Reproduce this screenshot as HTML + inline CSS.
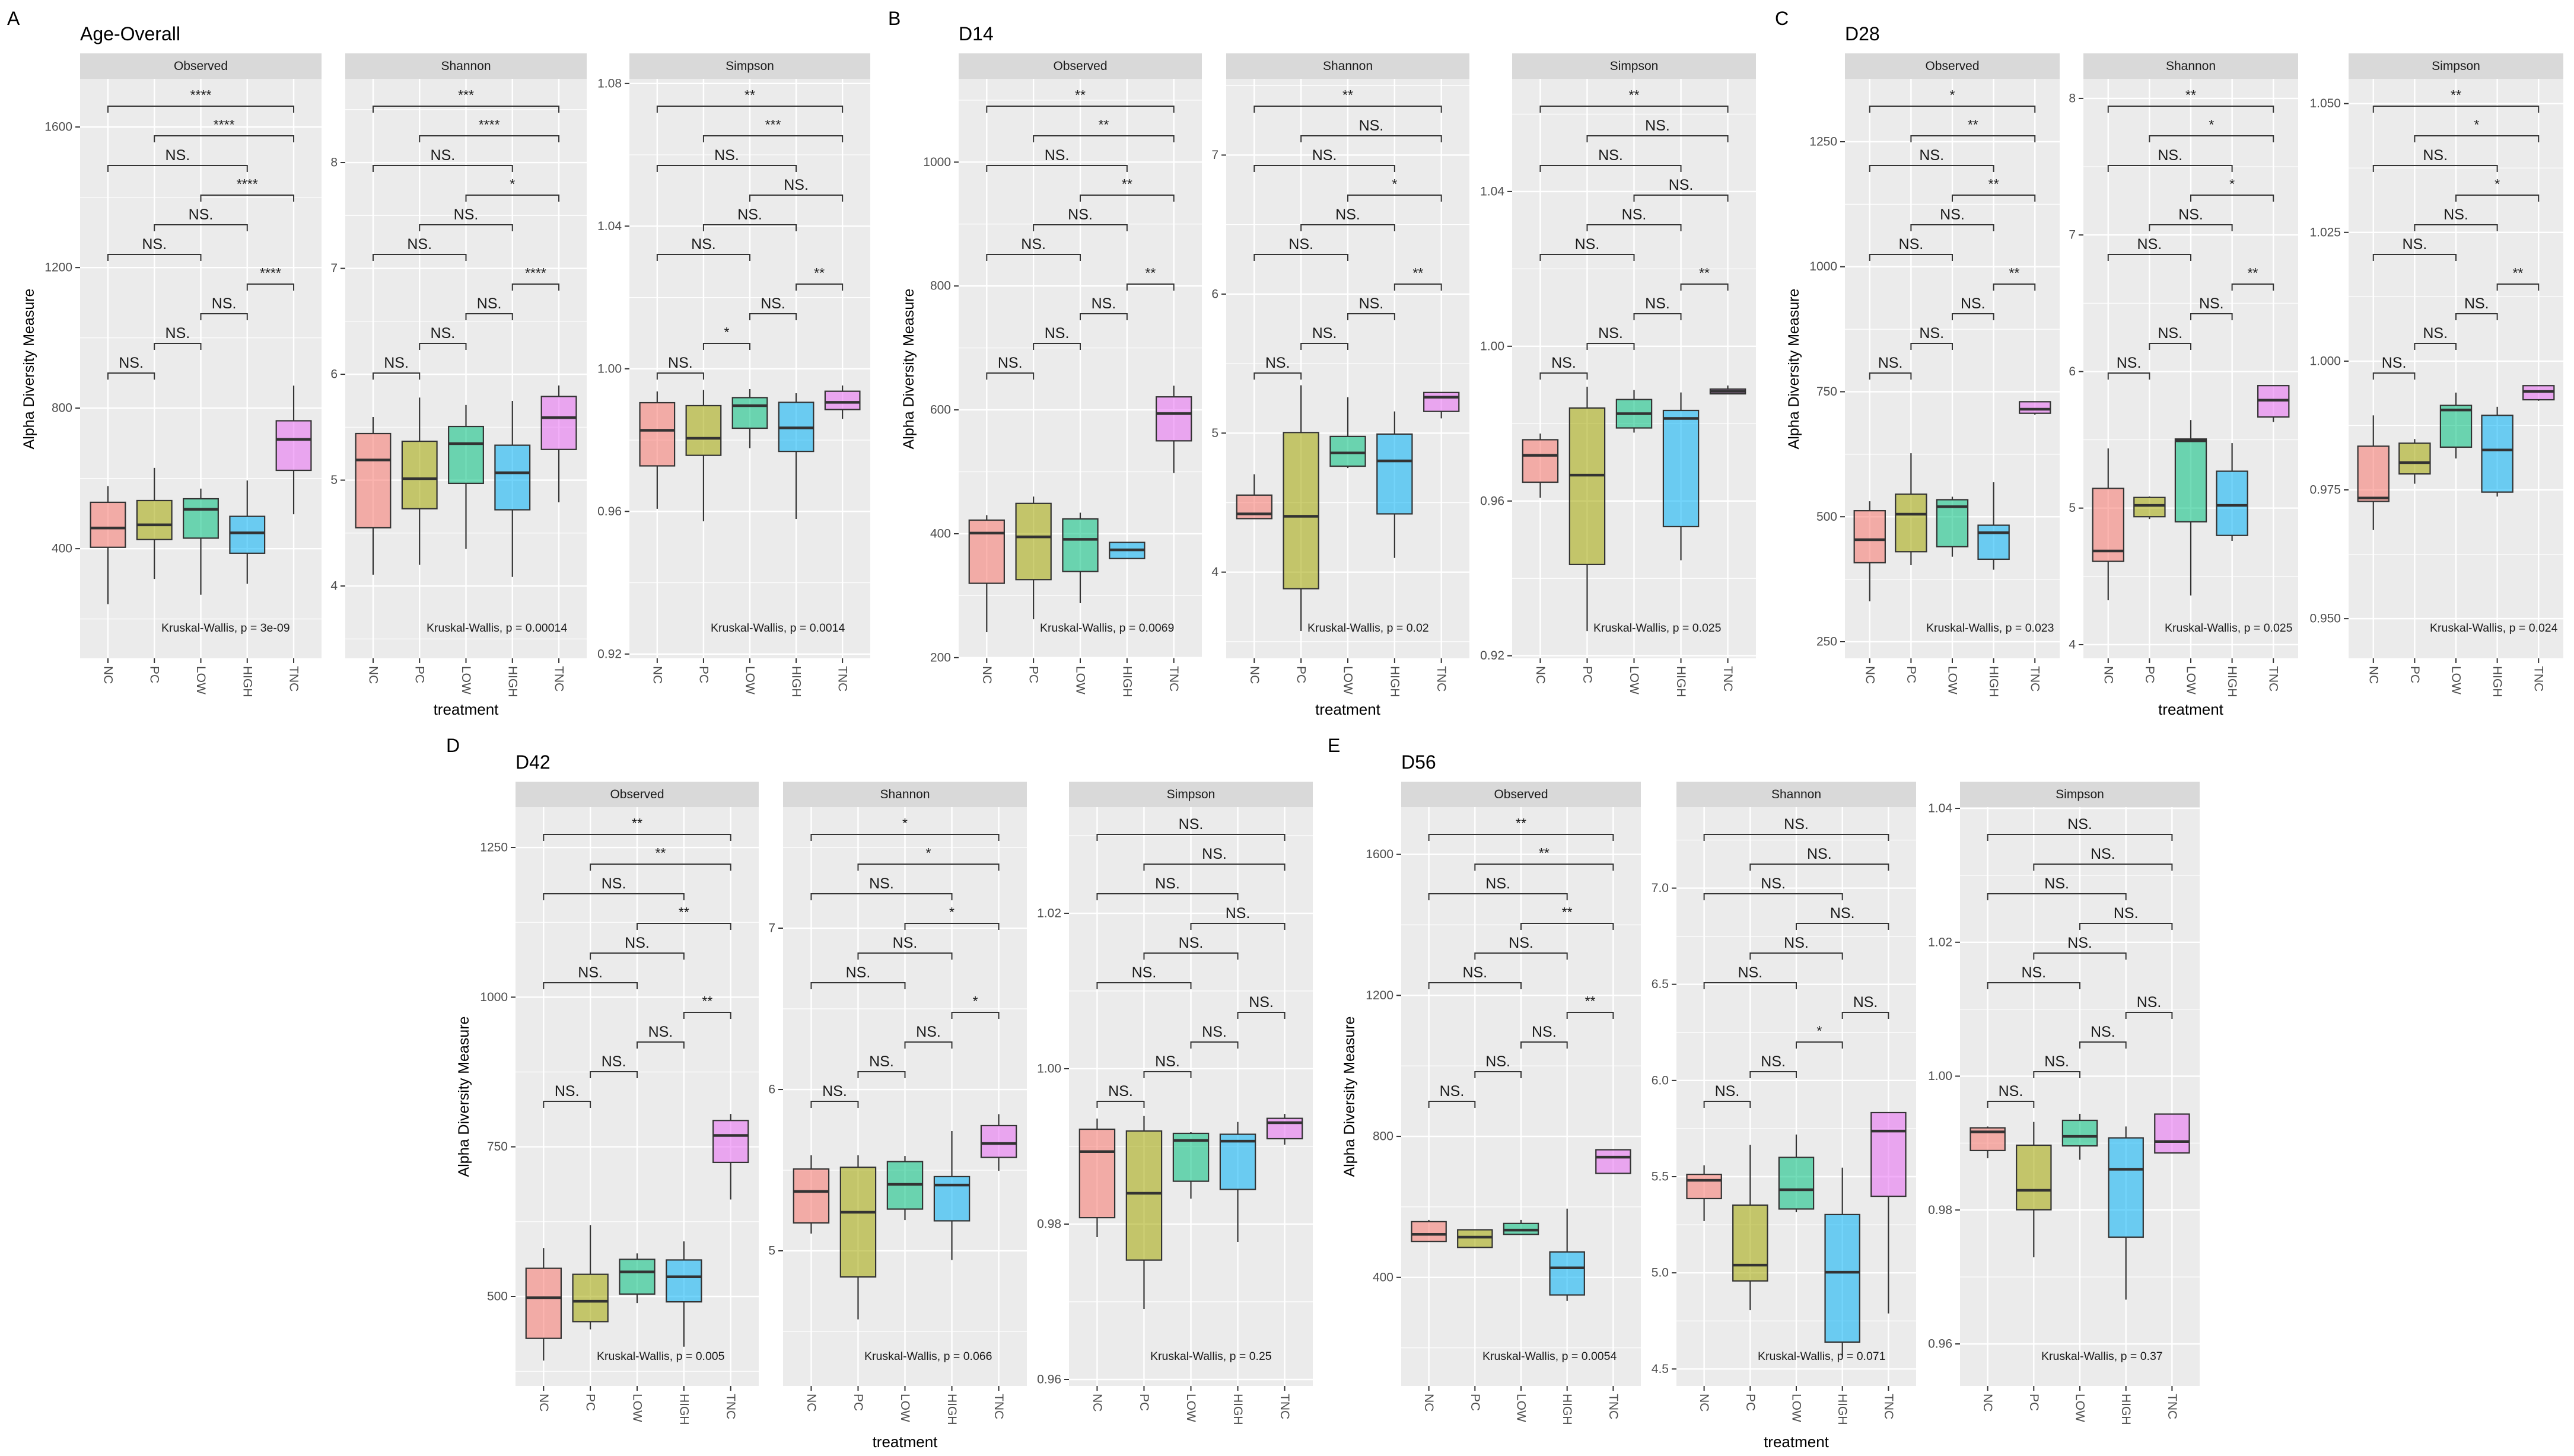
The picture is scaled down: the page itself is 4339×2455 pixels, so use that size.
<!DOCTYPE html>
<html><head><meta charset="utf-8"><title>Alpha diversity boxplots</title>
<style>
html,body{margin:0;padding:0;background:#fff;}
svg{display:block;font-family:"Liberation Sans",Arial,sans-serif;}
</style></head>
<body>
<svg id="fig" xmlns="http://www.w3.org/2000/svg" width="4339" height="2455" viewBox="0 0 4339 2455">
<rect x="0" y="0" width="4339" height="2455" fill="#ffffff"/>
</svg>
<script>
// ---------- data ----------
const categories = ["NC","PC","LOW","HIGH","TNC"];
const colors = ["#F8766D","#A3A500","#00BF7D","#00B0F6","#E76BF3"];
const pairs = [[0,4],[1,4],[0,3],[2,4],[1,3],[0,2],[3,4],[2,3],[1,2],[0,1]];
// five-number summaries [whiskerLow, q1, median, q3, whiskerHigh] per category
const aObsStats = [[242,404,459,532,578],[314,426,468,537,630],[269,430,512,542,571],[300,387,445,492,594],[498,623,711,764,864]];
const aShaStats = [[4.107,4.55,5.19,5.44,5.597],[4.20,4.73,5.014,5.367,5.78],[4.35,4.97,5.345,5.507,5.71],[4.086,4.72,5.07,5.33,5.748],[4.79,5.29,5.59,5.79,5.894]];
const aSimStats = [[0.96074,0.97277,0.98276,0.99048,0.99364],[0.95722,0.97573,0.9805,0.98966,0.99403],[0.97773,0.98333,0.98966,0.99191,0.99431],[0.95788,0.97683,0.98342,0.99058,0.99314],[0.98594,0.98857,0.99058,0.9937,0.99531]];
const bObsStats = [[241,320,401,422,430],[262,326,395,449,460],[288,339,391,424,434],[360,360,374,386,386],[498,550,594,621,639]];
const bShaStats = [[4.385,4.385,4.419,4.554,4.704],[3.576,3.881,4.402,5.004,5.344],[4.749,4.762,4.857,4.976,5.258],[4.102,4.419,4.80,4.993,5.156],[5.106,5.156,5.258,5.292,5.292]];
const bSimStats = [[0.96082,0.96486,0.97181,0.97584,0.97744],[0.92638,0.94358,0.96668,0.98403,0.98954],[0.97768,0.97889,0.98257,0.98623,0.98867],[0.94469,0.95338,0.98135,0.98342,0.98806],[0.9877,0.9877,0.98832,0.98893,0.98985]];
const cObsStats = [[331,408,454,512,531],[403,430,505,545,627],[420,440,520,534,540],[394,415,468,483,569],[704,707,715,730,730]];
const cShaStats = [[4.325,4.61,4.686,5.144,5.437],[4.92,4.937,5.02,5.078,5.085],[4.36,4.90,5.493,5.506,5.645],[4.76,4.80,5.02,5.27,5.476],[5.63,5.667,5.79,5.897,5.897]];
const cSimStats = [[0.9672,0.97277,0.97342,0.98348,0.98947],[0.9762,0.9781,0.9803,0.98406,0.98487],[0.9811,0.9833,0.99052,0.9914,0.99389],[0.9737,0.97458,0.98275,0.98947,0.99114],[0.9923,0.9925,0.9941,0.99524,0.99524]];
const dObsStats = [[393,430,498,547,581],[445,458,492,537,619],[489,504,541,562,572],[416,491,533,561,592],[662,724,769,794,805]];
const dShaStats = [[5.107,5.173,5.368,5.507,5.592],[4.575,4.838,5.239,5.518,5.592],[5.191,5.259,5.412,5.553,5.588],[4.943,5.186,5.408,5.46,5.743],[5.496,5.579,5.665,5.776,5.847]];
const dSimStats = [[0.97832,0.98083,0.98933,0.99221,0.99358],[0.96908,0.97537,0.98397,0.99198,0.99391],[0.98328,0.98552,0.99076,0.99168,0.99183],[0.97771,0.98446,0.99068,0.99156,0.99315],[0.99022,0.99099,0.99305,0.99361,0.99419]];
const eObsStats = [[502,502,522,558,563],[483,485,514,535,534],[520,522,534,553,563],[333,350,427,472,595],[695,695,741,762,762]];
const eShaStats = [[5.269,5.386,5.481,5.512,5.559],[4.806,4.958,5.04,5.352,5.665],[5.315,5.332,5.432,5.60,5.719],[4.564,4.64,5.003,5.303,5.547],[4.789,5.398,5.737,5.833,5.833]];
const eSimStats = [[0.98773,0.98889,0.99167,0.99228,0.99248],[0.97295,0.98003,0.98295,0.98968,0.99316],[0.98751,0.98958,0.991,0.9934,0.99438],[0.96661,0.97595,0.98609,0.99078,0.99248],[0.98853,0.98853,0.99023,0.99433,0.99433]];
// tick labels
const aObsTicks=["400","800","1200","1600"], aShaTicks=["4","5","6","7","8"], aSimTicks=["0.92","0.96","1.00","1.04","1.08"];
const bObsTicks=["200","400","600","800","1000"], bShaTicks=["4","5","6","7"], bSimTicks=["0.92","0.96","1.00","1.04"];
const cObsTicks=["250","500","750","1000","1250"], cShaTicks=["4","5","6","7","8"], cSimTicks=["0.950","0.975","1.000","1.025","1.050"];
const dObsTicks=["500","750","1000","1250"], dShaTicks=["5","6","7"], dSimTicks=["0.96","0.98","1.00","1.02"];
const eObsTicks=["400","800","1200","1600"], eShaTicks=["4.5","5.0","5.5","6.0","6.5","7.0"], eSimTicks=["0.96","0.98","1.00","1.02","1.04"];
// significance labels, order = pairs
const aObsSig=["****","****","NS.","****","NS.","NS.","****","NS.","NS.","NS."];
const aShaSig=["***","****","NS.","*","NS.","NS.","****","NS.","NS.","NS."];
const aSimSig=["**","***","NS.","NS.","NS.","NS.","**","NS.","*","NS."];
const bObsSig=["**","**","NS.","**","NS.","NS.","**","NS.","NS.","NS."];
const bShaSig=["**","NS.","NS.","*","NS.","NS.","**","NS.","NS.","NS."];
const bSimSig=["**","NS.","NS.","NS.","NS.","NS.","**","NS.","NS.","NS."];
const cObsSig=["*","**","NS.","**","NS.","NS.","**","NS.","NS.","NS."];
const cShaSig=["**","*","NS.","*","NS.","NS.","**","NS.","NS.","NS."];
const cSimSig=["**","*","NS.","*","NS.","NS.","**","NS.","NS.","NS."];
const dObsSig=["**","**","NS.","**","NS.","NS.","**","NS.","NS.","NS."];
const dShaSig=["*","*","NS.","*","NS.","NS.","*","NS.","NS.","NS."];
const dSimSig=["NS.","NS.","NS.","NS.","NS.","NS.","NS.","NS.","NS.","NS."];
const eObsSig=["**","**","NS.","**","NS.","NS.","**","NS.","NS.","NS."];
const eShaSig=["NS.","NS.","NS.","NS.","NS.","NS.","NS.","*","NS.","NS."];
const eSimSig=["NS.","NS.","NS.","NS.","NS.","NS.","NS.","NS.","NS.","NS."];
const kwP = ["3e-09","0.00014","0.0014","0.0069","0.02","0.025","0.023","0.025","0.024","0.005","0.066","0.25","0.0054","0.071","0.37"];

// ---------- layout ----------
const NS="http://www.w3.org/2000/svg";
const svg=document.getElementById('fig');
const rows=[{stripTop:90,top:133,bottom:1110,kwOff:51,titleY:68,letterY:42,treatY:1205,ytitleY:622},
            {stripTop:1318,top:1361,bottom:2337,kwOff:50,titleY:1296,letterY:1268,treatY:2440,ytitleY:1849}];
const groups=[
 {letter:"A",title:"Age-Overall",row:0,letterX:12,ytitleX:49,panels:[
  {name:"Observed",left:135,w:407,lo:88,hi:1737,stats:aObsStats,ticks:aObsTicks,sig:aObsSig},
  {name:"Shannon",left:582,w:407,lo:3.317,hi:8.79,stats:aShaStats,ticks:aShaTicks,sig:aShaSig},
  {name:"Simpson",left:1061,w:406,lo:0.9188,hi:1.0813,stats:aSimStats,ticks:aSimTicks,sig:aSimSig}]},
 {letter:"B",title:"D14",row:0,letterX:1497,ytitleX:1532,panels:[
  {name:"Observed",left:1616,w:410,lo:198.9,hi:1134.4,stats:bObsStats,ticks:bObsTicks,sig:bObsSig},
  {name:"Shannon",left:2067,w:410,lo:3.38,hi:7.548,stats:bShaStats,ticks:bShaTicks,sig:bShaSig},
  {name:"Simpson",left:2549,w:411,lo:0.91934,hi:1.06911,stats:bSimStats,ticks:bSimTicks,sig:bSimSig}]},
 {letter:"C",title:"D28",row:0,letterX:2992,ytitleX:3024,panels:[
  {name:"Observed",left:3110,w:362,lo:216.8,hi:1375.7,stats:cObsStats,ticks:cObsTicks,sig:cObsSig},
  {name:"Shannon",left:3512,w:362,lo:3.90,hi:8.143,stats:cShaStats,ticks:cShaTicks,sig:cShaSig},
  {name:"Simpson",left:3959,w:362,lo:0.9423,hi:1.0548,stats:cSimStats,ticks:cSimTicks,sig:cSimSig}]},
 {letter:"D",title:"D42",row:1,letterX:752,ytitleX:782,panels:[
  {name:"Observed",left:869,w:410,lo:350.4,hi:1317.4,stats:dObsStats,ticks:dObsTicks,sig:dObsSig},
  {name:"Shannon",left:1320,w:411,lo:4.162,hi:7.75,stats:dShaStats,ticks:dShaTicks,sig:dShaSig},
  {name:"Simpson",left:1802,w:411,lo:0.95916,hi:1.03366,stats:dSimStats,ticks:dSimTicks,sig:dSimSig}]},
 {letter:"E",title:"D56",row:1,letterX:2238,ytitleX:2275,panels:[
  {name:"Observed",left:2362,w:404,lo:91.7,hi:1734,stats:eObsStats,ticks:eObsTicks,sig:eObsSig},
  {name:"Shannon",left:2826,w:404,lo:4.4115,hi:7.421,stats:eShaStats,ticks:eShaTicks,sig:eShaSig},
  {name:"Simpson",left:3304,w:404,lo:0.95371,hi:1.04018,stats:eSimStats,ticks:eSimTicks,sig:eSimSig}]}
];

function mk(tag,attrs,parent,text){
  const el=document.createElementNS(NS,tag);
  for(const k in attrs) el.setAttribute(k,attrs[k]);
  if(text!==undefined) el.textContent=text;
  (parent||svg).appendChild(el);
  return el;
}

let pIndex=0;
groups.forEach(g=>{
  const R=rows[g.row];
  const gEl=mk('g',{});
  
  
  const lt=mk('text',{x:g.letterX,y:R.letterY,'font-size':32,fill:'#000'},gEl,g.letter);
  
  
  const tt=mk('text',{x:g.panels[0].left,y:R.titleY,'font-size':32,fill:'#000'},gEl,g.title);
  
  
  const yt=mk('text',{x:g.ytitleX,y:R.ytitleY,'font-size':25,fill:'#000','text-anchor':'middle','dominant-baseline':'central',transform:`rotate(-90 ${g.ytitleX} ${R.ytitleY})`},gEl,'Alpha Diversity Measure');
  
  
  const mid=g.panels[1];
  const xt=mk('text',{x:mid.left+mid.w/2,y:R.treatY,'font-size':26,fill:'#000','text-anchor':'middle'},gEl,'treatment');
  
  

  g.panels.forEach(p=>{
    const top=R.top,bot=R.bottom,H=bot-top,L=p.left,W=p.w;
    const y=v=>top+(p.hi-v)/(p.hi-p.lo)*H;
    const step=W/5.2;
    const x=i=>L+(i+0.6)*step;
    const pg=mk('g',{},gEl);
    
    
    // strip
    const st=mk('rect',{x:L,y:R.stripTop,width:W,height:top-R.stripTop,fill:'#d9d9d9'},pg);
    
    
    const stt=mk('text',{x:L+W/2,y:(R.stripTop+top)/2,'font-size':21,fill:'#1a1a1a','text-anchor':'middle','dominant-baseline':'central'},pg,p.name);
    
    
    // panel bg
    const bg=mk('rect',{x:L,y:top,width:W,height:H,fill:'#ebebeb'},pg);
    
    
    // grid
    const tv=p.ticks.map(Number);
    const d=tv.length>1?tv[1]-tv[0]:1;
    for(let k=-2;k<tv.length+2;k++){
      const mv=tv[0]+(k+0.5)*d;
      const yy=y(mv);
      if(yy>top+1&&yy<bot-1){
        const gl=mk('line',{x1:L,x2:L+W,y1:yy,y2:yy,stroke:'#fff','stroke-width':1.2},pg);
        
        
      }
    }
    p.ticks.forEach(t=>{
      const yy=y(Number(t));
      const gl=mk('line',{x1:L,x2:L+W,y1:yy,y2:yy,stroke:'#fff','stroke-width':2.4},pg);
      
      
      const tk=mk('line',{x1:L-8,x2:L,y1:yy,y2:yy,stroke:'#333','stroke-width':2},pg);
      
      
      const tl=mk('text',{x:L-13,y:yy,'font-size':21,fill:'#4d4d4d','text-anchor':'end','dominant-baseline':'central'},pg,t);
      
      
    });
    categories.forEach((c,i)=>{
      const gl=mk('line',{x1:x(i),x2:x(i),y1:top,y2:bot,stroke:'#fff','stroke-width':2.4},pg);
      
      
      const tk=mk('line',{x1:x(i),x2:x(i),y1:bot,y2:bot+8,stroke:'#333','stroke-width':2},pg);
      
      
      const tl=mk('text',{x:0,y:0,'font-size':21,fill:'#4d4d4d','text-anchor':'start','dominant-baseline':'central',transform:`translate(${x(i)},${bot+13}) rotate(90)`},pg,c);
      
      
    });
    // boxes
    p.stats.forEach((s,i)=>{
      const bx=mk('g',{},pg);
      
      
      const cx=x(i),bw=step*0.75;
      mk('line',{x1:cx,x2:cx,y1:y(s[0]),y2:y(s[1]),stroke:'#333','stroke-width':2.2},bx);
      mk('line',{x1:cx,x2:cx,y1:y(s[3]),y2:y(s[4]),stroke:'#333','stroke-width':2.2},bx);
      mk('rect',{x:cx-bw/2,y:y(s[3]),width:bw,height:Math.max(0.5,y(s[1])-y(s[3])),fill:colors[i],'fill-opacity':0.55,stroke:'#333','stroke-width':2.2},bx);
      mk('line',{x1:cx-bw/2,x2:cx+bw/2,y1:y(s[2]),y2:y(s[2]),stroke:'#333','stroke-width':4.5},bx);
    });
    // brackets
    pairs.forEach((pr,k)=>{
      const by=top+46+50*k;
      const xa=x(pr[0]),xb=x(pr[1]);
      const bg2=mk('g',{},pg);
      
      
      mk('path',{d:`M${xa},${by+11} V${by} H${xb} V${by+11}`,fill:'none',stroke:'#333','stroke-width':2},bg2);
      const lab=p.sig[k];
      const isNS=lab==='NS.';
      mk('text',{x:(xa+xb)/2,y:isNS?by-9:by-11,'font-size':isNS?25:23,fill:'#1a1a1a','text-anchor':'middle'},bg2,lab);
    });
    const kw=mk('text',{x:L+137,y:bot-R.kwOff,'font-size':19.5,fill:'#1a1a1a','dominant-baseline':'central'},pg,'Kruskal-Wallis, p = '+kwP[pIndex]);
    
    
    pIndex++;
  });
});
</script>
</body></html>
